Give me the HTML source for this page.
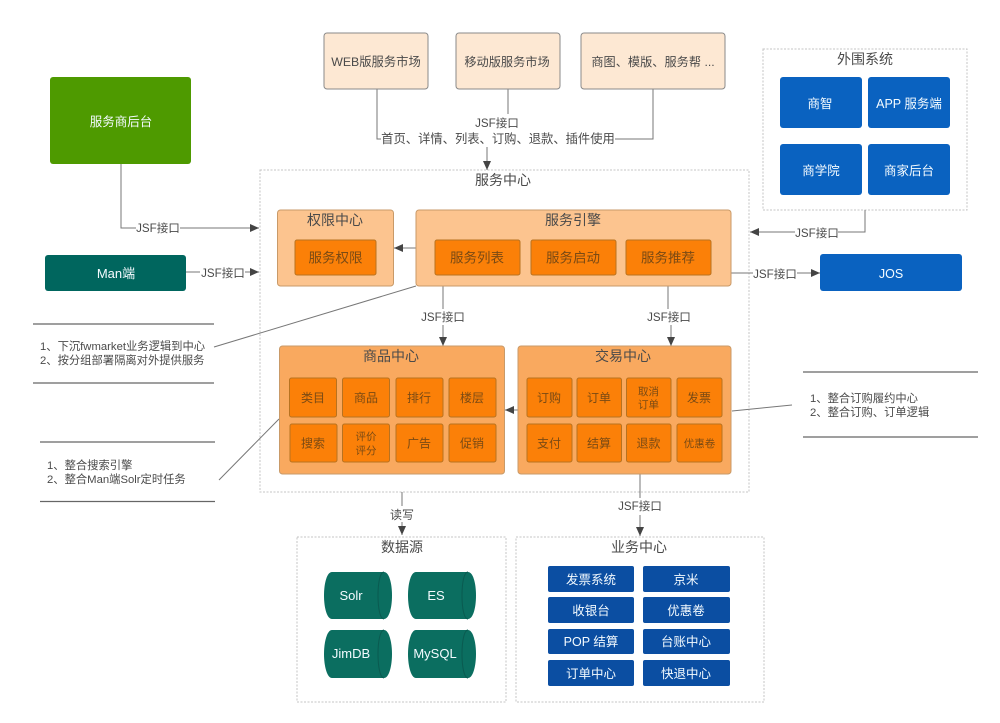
<!DOCTYPE html>
<html><head><meta charset="utf-8"><style>
html,body{margin:0;padding:0;background:#fff}
svg{display:block;filter:blur(.35px)}
text{font-family:"Liberation Sans","Noto Sans CJK SC",sans-serif;text-anchor:middle;fill:#4a4a4a}
.l text,text.l{text-anchor:start}
.w text{fill:#f4fbff}
.c text{fill:#7a4a14}
.d{fill:none;stroke:#c4c4c4;stroke-width:1;stroke-dasharray:2 1.5}
.cn{fill:none;stroke:#777;stroke-width:1}
.rule{stroke:#666;stroke-width:1.2}
.big{font-size:14px}.lb{font-size:11.6px}.n{font-size:12px}
</style></head><body>
<svg width="1000" height="723" viewBox="0 0 1000 723" xmlns="http://www.w3.org/2000/svg">
<defs><marker id="a" markerWidth="10" markerHeight="8" refX="9" refY="4" orient="auto" markerUnits="userSpaceOnUse"><path d="M0 0L9 4L0 8z" fill="#444"/></marker></defs>

<!-- dashed containers -->
<rect class="d" x="260" y="170" width="489" height="322"/>
<rect class="d" x="763" y="49" width="204" height="161"/>
<rect class="d" x="297" y="537" width="209" height="165"/>
<rect class="d" x="516" y="537" width="248" height="165"/>

<!-- connectors -->
<g class="cn">
<path d="M377 89V139H381"/><path d="M508 89V114"/><path d="M653 89V139H615"/>
<path d="M487 147V170" marker-end="url(#a)"/>
<path d="M121 164V228H136"/><path d="M180 228H259" marker-end="url(#a)"/>
<path d="M186 272H200"/><path d="M245 272H259" marker-end="url(#a)"/>
<path d="M865 210V232H838"/><path d="M795 232H750" marker-end="url(#a)"/>
<path d="M731 273H753"/><path d="M797 273H820" marker-end="url(#a)"/>
<path d="M416 248H394" marker-end="url(#a)"/>
<path d="M443 286V309"/><path d="M443 325V346" marker-end="url(#a)"/>
<path d="M668 286V309"/><path d="M671 325V346" marker-end="url(#a)"/>
<path d="M518 410H505" marker-end="url(#a)"/>
<path d="M640 474V498"/><path d="M640 515V536" marker-end="url(#a)"/>
<path d="M402 492V506"/><path d="M402 522V535" marker-end="url(#a)"/>
<path d="M214 347L416 286"/><path d="M219 480L279 419"/><path d="M732 411L792 405"/>
</g>
<path class="rule" d="M33 324H214M33 383H214M40 442H215M40 501.500H215M803 372H978M803 437H978" fill="none"/>

<!-- top boxes -->
<g fill="#fde8d3" stroke="#8a8a8a">
<rect x="324" y="33" width="104" height="56" rx="3"/>
<rect x="456" y="33" width="104" height="56" rx="3"/>
<rect x="581" y="33" width="144" height="56" rx="3"/>
</g>
<g class="n">
<text x="376" y="66" font-size="12.300">WEB版服务市场</text>
<text x="507" y="66" font-size="12.200">移动版服务市场</text>
<text x="653" y="66" font-size="12.200">商图、模版、服务帮 ...</text>
</g>
<text class="lb" x="497" y="127">JSF接口</text>
<text x="498" y="143" font-size="12.300">首页、详情、列表、订购、退款、插件使用</text>
<text class="big" x="503" y="185">服务中心</text>

<!-- left -->
<rect x="50" y="77" width="141" height="87" rx="3" fill="#4e9a00"/>
<rect x="45" y="255" width="141" height="36" rx="3" fill="#00665e"/>
<g class="w">
<text x="121" y="126" font-size="12.500">服务商后台</text>
<text x="116" y="278" font-size="13">Man端</text>
</g>
<text class="lb" x="158" y="232">JSF接口</text>
<text class="lb" x="223" y="277">JSF接口</text>

<g font-size="11.300">
<text class="l" x="40" y="350">1、下沉fwmarket业务逻辑到中心</text>
<text class="l" x="40" y="364">2、按分组部署隔离对外提供服务</text>
<text class="l" x="47" y="469">1、整合搜索引擎</text>
<text class="l" x="47" y="483">2、整合Man端Solr定时任务</text>
<text class="l" x="810" y="402">1、整合订购履约中心</text>
<text class="l" x="810" y="416">2、整合订购、订单逻辑</text>
</g>

<!-- panels -->
<g stroke="#c99a68">
<rect x="277.500" y="210" width="116" height="76" rx="3" fill="#fcc48f"/>
<rect x="416" y="210" width="315" height="76" rx="3" fill="#fcc48f"/>
<rect x="279.500" y="346" width="225" height="128" rx="3" fill="#f9a95f"/>
<rect x="518" y="346" width="213" height="128" rx="3" fill="#f9a95f"/>
</g>
<g class="big" fill="#444">
<text x="335" y="225">权限中心</text>
<text x="573" y="225">服务引擎</text>
<text x="391" y="361">商品中心</text>
<text x="623" y="361">交易中心</text>
</g>

<!-- orange cells -->
<g fill="#fb8008" stroke="#b8721f">
<rect x="295" y="240" width="81" height="35" rx="2"/>
<rect x="435" y="240" width="85" height="35" rx="2"/>
<rect x="531" y="240" width="85" height="35" rx="2"/>
<rect x="626" y="240" width="85" height="35" rx="2"/>
<rect x="289.500" y="378" width="47" height="39" rx="2"/><rect x="342.500" y="378" width="47" height="39" rx="2"/><rect x="396" y="378" width="47" height="39" rx="2"/><rect x="449" y="378" width="47" height="39" rx="2"/>
<rect x="290" y="424" width="47" height="38" rx="2"/><rect x="342.500" y="424" width="47" height="38" rx="2"/><rect x="396" y="424" width="47" height="38" rx="2"/><rect x="449" y="424" width="47" height="38" rx="2"/>
<rect x="527" y="378" width="45" height="39" rx="2"/><rect x="577" y="378" width="44.500" height="39" rx="2"/><rect x="626.500" y="378" width="44.500" height="39" rx="2"/><rect x="677" y="378" width="45" height="39" rx="2"/>
<rect x="527" y="424" width="45" height="38" rx="2"/><rect x="577" y="424" width="44.500" height="38" rx="2"/><rect x="626.500" y="424" width="44.500" height="38" rx="2"/><rect x="677" y="424" width="45" height="38" rx="2"/>
</g>
<g class="c" font-size="13.500">
<text x="335.500" y="262.500">服务权限</text>
<text x="477" y="262.500">服务列表</text>
<text x="573" y="262.500">服务启动</text>
<text x="668" y="262.500">服务推荐</text>
</g>
<g class="c" font-size="12">
<text x="313" y="402">类目</text><text x="366" y="402">商品</text><text x="419" y="402">排行</text><text x="472" y="402">楼层</text>
<text x="313" y="447.500">搜索</text><text x="419" y="447.500">广告</text><text x="472" y="447.500">促销</text>
<text x="549" y="402">订购</text><text x="599" y="402">订单</text><text x="699" y="402">发票</text>
<text x="549" y="447.500">支付</text><text x="599" y="447.500">结算</text><text x="648.500" y="447.500">退款</text>
</g>
<g class="c" font-size="10.500">
<text x="366" y="440">评价</text><text x="366" y="454">评分</text>
<text x="648.500" y="395">取消</text><text x="648.500" y="408">订单</text>
<text x="699.500" y="447">优惠卷</text>
</g>

<!-- external system -->
<text class="big" x="865" y="64">外围系统</text>
<g fill="#0a62c0">
<rect x="780" y="77" width="82" height="51" rx="3"/><rect x="868" y="77" width="82" height="51" rx="3"/>
<rect x="780" y="144" width="82" height="51" rx="3"/><rect x="868" y="144" width="82" height="51" rx="3"/>
<rect x="820" y="254" width="142" height="37" rx="3"/>
</g>
<g class="w" font-size="12.500">
<text x="820" y="108">商智</text><text x="909" y="108">APP 服务端</text>
<text x="821" y="175">商学院</text><text x="909" y="175">商家后台</text>
<text x="891" y="278">JOS</text>
</g>
<text class="lb" x="817" y="237">JSF接口</text>
<text class="lb" x="775" y="278">JSF接口</text>
<text class="lb" x="443" y="321">JSF接口</text>
<text class="lb" x="669" y="321">JSF接口</text>
<text class="lb" x="640" y="510">JSF接口</text>
<text font-size="12" x="402" y="519">读写</text>

<!-- data source -->
<text class="big" x="402" y="552">数据源</text>
<g fill="#0b6e60">
<path d="M332 572H384C389 572 392 583 392 595.500C392 608 389 619 384 619H332C327 619 324 608 324 595.500C324 583 327 572 332 572Z"/>
<path d="M416 572H468C473 572 476 583 476 595.500C476 608 473 619 468 619H416C411 619 408 608 408 595.500C408 583 411 572 416 572Z"/>
<path d="M332 630H384C389 630 392 642 392 654C392 666 389 678 384 678H332C327 678 324 666 324 654C324 642 327 630 332 630Z"/>
<path d="M416 630H468C473 630 476 642 476 654C476 666 473 678 468 678H416C411 678 408 666 408 654C408 642 411 630 416 630Z"/>
</g>
<g fill="none" stroke="#0a5a50">
<path d="M384 572C380 572 378 583 378 595.500C378 608 380 619 384 619"/>
<path d="M468 572C464 572 462 583 462 595.500C462 608 464 619 468 619"/>
<path d="M384 630C380 630 378 642 378 654C378 666 380 678 384 678"/>
<path d="M468 630C464 630 462 642 462 654C462 666 464 678 468 678"/>
</g>
<g class="w" font-size="13">
<text x="351" y="600">Solr</text><text x="436" y="600">ES</text>
<text x="351" y="658">JimDB</text><text x="435" y="658">MySQL</text>
</g>

<!-- business center -->
<text class="big" x="639" y="552">业务中心</text>
<g fill="#0b4ea2">
<rect x="548" y="566" width="86" height="26" rx="2"/><rect x="643" y="566" width="87" height="26" rx="2"/>
<rect x="548" y="597" width="86" height="26" rx="2"/><rect x="643" y="597" width="87" height="26" rx="2"/>
<rect x="548" y="629" width="86" height="25" rx="2"/><rect x="643" y="629" width="87" height="25" rx="2"/>
<rect x="548" y="660" width="86" height="26" rx="2"/><rect x="643" y="660" width="87" height="26" rx="2"/>
</g>
<g class="w" font-size="12.500">
<text x="591" y="584">发票系统</text><text x="686" y="584">京米</text>
<text x="591" y="615">收银台</text><text x="686" y="615">优惠卷</text>
<text x="591" y="646">POP 结算</text><text x="686" y="646">台账中心</text>
<text x="591" y="678">订单中心</text><text x="686" y="678">快退中心</text>
</g>
</svg>
</body></html>
